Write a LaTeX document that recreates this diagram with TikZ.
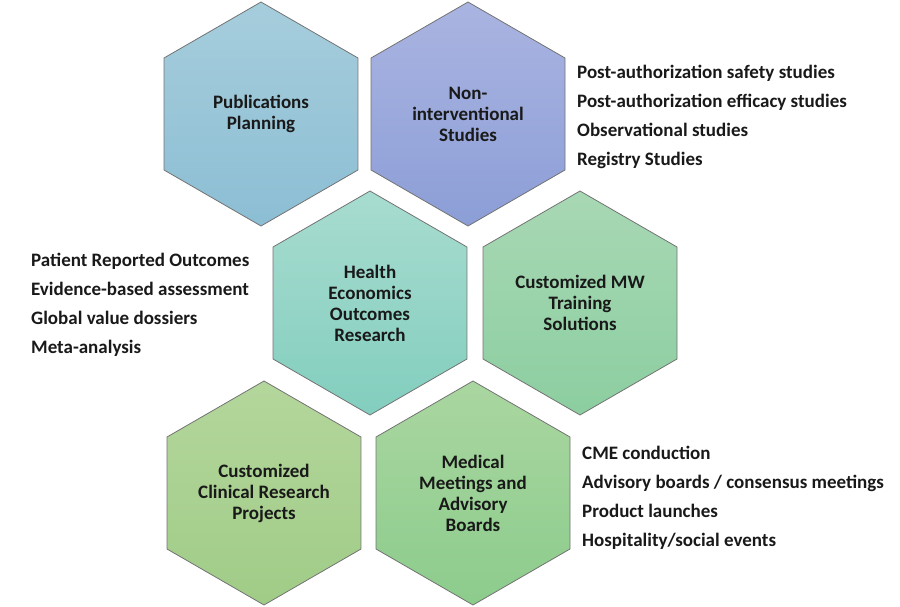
\documentclass[tikz,border=0pt]{standalone}
\usepackage{fontspec}
\setmainfont{Carlito}
\usetikzlibrary{shapes.geometric}

\definecolor{pubtop}{HTML}{A6CDDC}
\definecolor{pubbot}{HTML}{8CBED4}
\definecolor{nistop}{HTML}{AAB4E1}
\definecolor{nisbot}{HTML}{8C9ED7}
\definecolor{heortop}{HTML}{A8DCD0}
\definecolor{heorbot}{HTML}{82CEBE}
\definecolor{mwtop}{HTML}{A8D8B4}
\definecolor{mwbot}{HTML}{8CCEA0}
\definecolor{ccrtop}{HTML}{B4D69C}
\definecolor{ccrbot}{HTML}{A0CC87}
\definecolor{meettop}{HTML}{AAD6A0}
\definecolor{meetbot}{HTML}{8CCC8C}

\begin{document}
\begin{tikzpicture}[
    x=1pt, y=1pt,
    hexa/.style={regular polygon, regular polygon sides=6, shape border rotate=30,
        minimum size=224pt, inner sep=0pt, draw=black!55, line width=0.8pt,
        align=center, text=black!90, font=\fontsize{19}{21}\selectfont\bfseries},
    list/.style={anchor=west, align=left, inner sep=0pt, text=black!90,
        font=\fontsize{19}{29}\selectfont\bfseries}
]

\useasboundingbox (0,0) rectangle (900,-607);

% Hexagons
\node[hexa, top color=pubtop, bottom color=pubbot] (pub) at (261,-114) {Publications\\Planning};
\node[hexa, top color=nistop, bottom color=nisbot] (nis) at (468,-114) {Non-\\interventional\\Studies};
\node[hexa, top color=heortop, bottom color=heorbot] (heor) at (370,-303) {Health\\Economics\\Outcomes\\Research};
\node[hexa, top color=mwtop, bottom color=mwbot] (mw) at (580,-303) {Customized MW\\Training\\Solutions};
\node[hexa, top color=ccrtop, bottom color=ccrbot] (ccr) at (264,-493) {Customized\\Clinical Research\\Projects};
\node[hexa, top color=meettop, bottom color=meetbot] (meet) at (473,-493) {Medical\\Meetings and\\Advisory\\Boards};

% Lists
\node[list] (nislist) at (577,-117) {Post-authorization safety studies\\Post-authorization efficacy studies\\Observational studies\\Registry Studies};
\node[list] (heorlist) at (31,-305) {Patient Reported Outcomes\\Evidence-based assessment\\Global value dossiers\\Meta-analysis};
\node[list] (meetlist) at (582,-498) {CME conduction\\Advisory boards / consensus meetings\\Product launches\\Hospitality/social events};

\end{tikzpicture}
\end{document}
